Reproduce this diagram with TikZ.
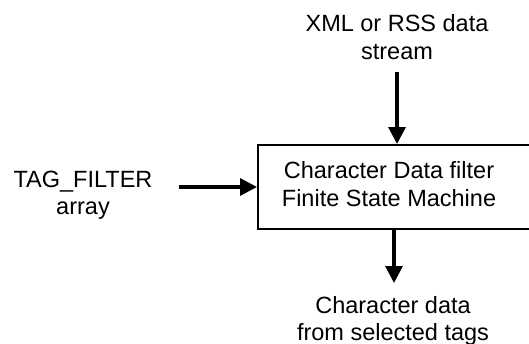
\documentclass[tikz,border=0pt]{standalone}
\usepackage{fontspec}
\setmainfont{Liberation Sans}
\usetikzlibrary{arrows.meta}
\begin{document}
\begin{tikzpicture}[x=1pt,y=-1pt,
  lbl/.style={align=center,inner sep=0pt,font=\fontsize{23.5}{27.5}\selectfont},
  flow/.style={line width=3.2pt,-{Triangle[length=17pt,width=17pt]}},
  fsmbox/.style={draw,line width=1.8pt,minimum width=282pt,minimum height=84pt,
    anchor=north west,inner sep=0pt}]
\useasboundingbox (0,0) rectangle (529,343);
\clip (0,0) rectangle (529,343);
% state machine block (its right side runs past the page edge)
\node[fsmbox] (fsm) at (257,144) {};
\node[lbl] (fsmtext) at (389,184) {Character Data filter\\Finite State Machine};
% inputs and output labels
\node[lbl] (src) at (397,37) {XML or RSS data\\stream};
\node[lbl] (tags) at (83,195) {TAG\_FILTER\\array};
\node[lbl] (out) at (393,321) {Character data\\from selected tags};
% arrow ends
\coordinate (srcend) at (397,72);
\coordinate (tagend) at (179,187);
\coordinate (outend) at (394,283);
\draw[flow] (srcend) -- (srcend |- fsm.north);
\draw[flow] (tagend) -- (tagend -| fsm.west);
\draw[flow] (outend |- fsm.south) -- (outend);
\end{tikzpicture}
\end{document}
